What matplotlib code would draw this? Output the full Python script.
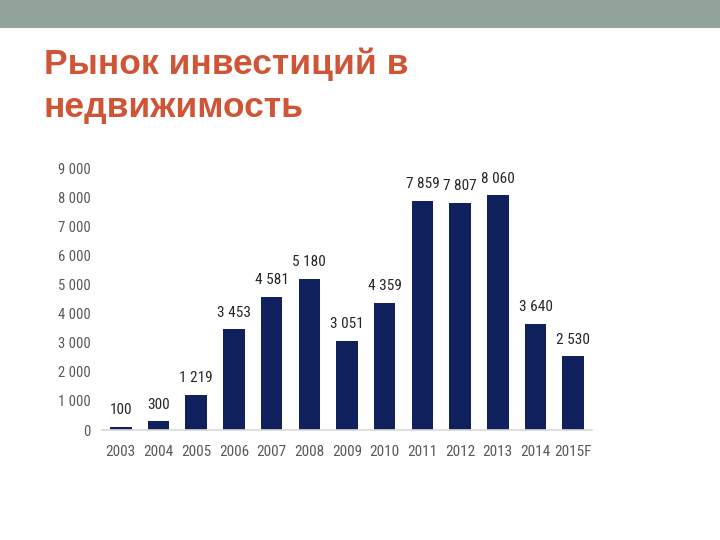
import matplotlib.pyplot as plt
from matplotlib import font_manager
from matplotlib.patches import Rectangle

title_lines = ['Рынок инвестиций в', 'недвижимость']
years = ['2003', '2004', '2005', '2006', '2007', '2008', '2009',
         '2010', '2011', '2012', '2013', '2014', '2015F']
values = [100, 300, 1219, 3453, 4581, 5180, 3051,
          4359, 7859, 7807, 8060, 3640, 2530]
yticks = [0, 1000, 2000, 3000, 4000, 5000, 6000, 7000, 8000, 9000]

NAVY = '#10215e'
GREY_TXT = '#595959'

names = {f.name for f in font_manager.fontManager.ttflist}
NARROW = [n for n in ['Roboto Condensed', 'Liberation Sans Narrow', 'DejaVu Sans Condensed']
          if n in names] + ['Liberation Sans']


def fmt(v):
    return f'{v:,}'.replace(',', ' ')


fig = plt.figure(figsize=(7.2, 5.4), dpi=100)

# slide header band
fig.patches.append(Rectangle((0, 1 - 28 / 540), 1, 28 / 540, transform=fig.transFigure,
                             facecolor='#93a39a', edgecolor='none', zorder=0))

for i, line in enumerate(title_lines):
    fig.text(44 / 720, 1 - (74 + 43 * i) / 540, line, ha='left', va='baseline',
             fontsize=25.5, fontweight='bold', color='#cf5537',
             family=['Liberation Sans', 'DejaVu Sans'])

ax = fig.add_axes([102 / 720, 110 / 540, 490 / 720, 262 / 540])
x = range(len(years))
bars = ax.bar(x, values, width=0.57, color=NAVY, zorder=2)

for xi, v in zip(x, values):
    ax.annotate(fmt(v), (xi, v), xytext=(0, 7), textcoords='offset points',
                ha='center', va='bottom', fontsize=11, color='#262626', family=NARROW)

ax.set_xlim(-0.5, len(years) - 0.5)
ax.set_ylim(0, 9000)
ax.set_yticks(yticks)
ax.set_yticklabels([fmt(t) for t in yticks], family=NARROW, fontsize=10.5, color=GREY_TXT)
ax.set_xticks(list(x))
ax.set_xticklabels(years, family=NARROW, fontsize=11, color=GREY_TXT)
ax.tick_params(axis='both', length=0)
ax.tick_params(axis='y', pad=8)
ax.tick_params(axis='x', pad=11)

for side in ['top', 'right', 'left']:
    ax.spines[side].set_visible(False)
ax.spines['bottom'].set_color('#d9d9d9')
ax.spines['bottom'].set_linewidth(1.2)

fig.savefig('out.png', dpi=100)
